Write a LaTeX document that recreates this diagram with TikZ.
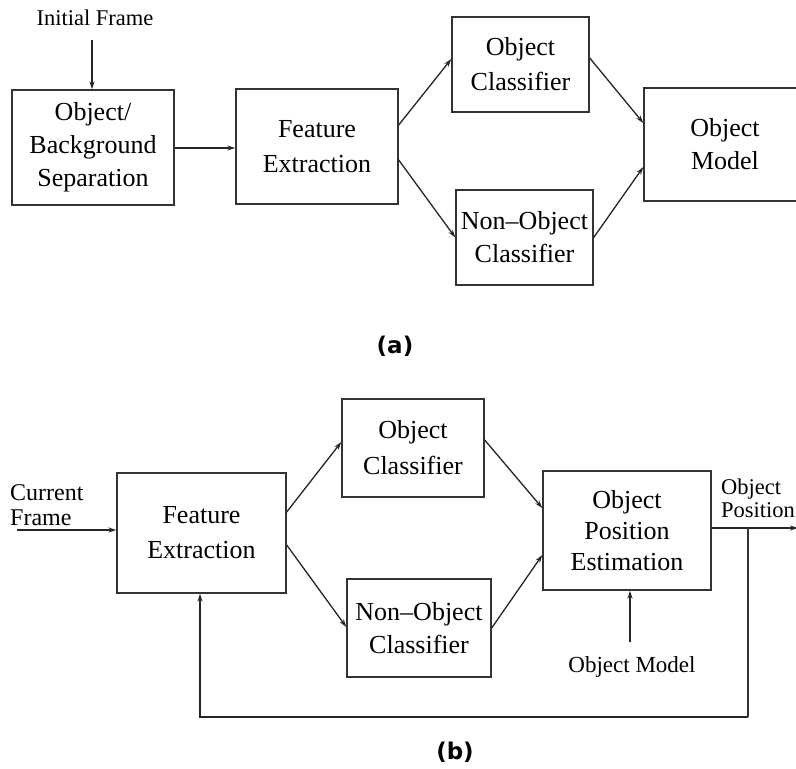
\documentclass[tikz,border=0pt]{standalone}
\usepackage{fontspec}
\setmainfont{Liberation Serif}
\newfontfamily\labelfont{DejaVu Sans}
\usetikzlibrary{arrows.meta}

\begin{document}
\begin{tikzpicture}[x=1pt,y=-1pt,
  blk/.style={draw=black!80,line width=1.4pt,align=center,inner sep=0pt,
    font=\fontsize{26}{33}\selectfont},
  note/.style={inner sep=0pt,align=left},
  arr/.style={draw=black!85,line width=1.3pt,-{Stealth[length=8pt,width=5pt]}},
  wire/.style={draw=black!80,line width=1.3pt},
  caption/.style={font=\labelfont\bfseries\fontsize{23}{26}\selectfont}]
\clip (0,0) rectangle (796,769);
\fill[white] (0,0) rectangle (796,769);

% ---------------- (a) training stage ----------------
\node[note,font=\fontsize{22.5}{24}\selectfont] (init) at (95,18) {Initial Frame};
\node[blk,minimum width=162pt,minimum height=115pt] (sep) at (93,147.5)
  {Object/\\Background\\Separation};
\node[blk,minimum width=162pt,minimum height=115pt,
  font=\fontsize{26}{35}\selectfont] (fea) at (317,146.5) {Feature\\Extraction};
\node[blk,minimum width=137pt,minimum height=95pt,
  font=\fontsize{26}{35}\selectfont] (oca) at (520.5,64.5) {Object\\Classifier};
\node[blk,minimum width=137pt,minimum height=95pt] (noca) at (524.5,237.5)
  {Non--Object\\Classifier};
\node[blk,minimum width=162pt,minimum height=113pt] (oma) at (725,144.5)
  {Object\\Model};

\draw[arr] ([xshift=-3pt,yshift=-14pt]init.south) -- ([xshift=-1pt]sep.north);
\draw[arr] ([yshift=-0.5pt]sep.east) -- ([yshift=-0.5pt]sep.east -| fea.west);
\draw[arr] ([yshift=21.5pt]fea.east) -- ([yshift=5.5pt]oca.west);
\draw[arr] ([yshift=-13.5pt]fea.east) -- (noca.west);
\draw[arr] ([yshift=6.5pt]oca.east) -- ([yshift=21.5pt]oma.west);
\draw[arr] (noca.east) -- ([yshift=-22.5pt]oma.west);

\node[caption] (capa) at (395,346) {(a)};

% ---------------- (b) tracking stage ----------------
\node[note,anchor=west,font=\fontsize{24}{25}\selectfont] (cur) at (10,505)
  {Current\\Frame};
\node[blk,minimum width=169pt,minimum height=120pt,
  font=\fontsize{26}{35}\selectfont] (feb) at (201.5,533) {Feature\\Extraction};
\node[blk,minimum width=142pt,minimum height=98pt,
  font=\fontsize{26}{36}\selectfont] (ocb) at (413,448) {Object\\Classifier};
\node[blk,minimum width=144pt,minimum height=98pt] (nocb) at (419,628)
  {Non--Object\\Classifier};
\node[blk,minimum width=168pt,minimum height=119pt,
  font=\fontsize{26}{31}\selectfont] (ope) at (627,530.5)
  {Object\\Position\\Estimation};
\node[note,anchor=west,font=\fontsize{22.5}{23}\selectfont] (opos) at (721,498)
  {Object\\Position};
\node[note,font=\fontsize{23}{24}\selectfont] (omb) at (632,667) {Object Model};

\coordinate (src) at (17,530);
\coordinate (out) at (798,528);
\coordinate (br) at (748,528);
\coordinate (fb) at (748,717);

\draw[arr] (src) -- (src -| feb.west);
\draw[arr] ([yshift=21pt]feb.east) -- ([yshift=6pt]ocb.west);
\draw[arr] ([yshift=-12pt]feb.east) -- ([yshift=1pt]nocb.west);
\draw[arr] ([yshift=8pt]ocb.east) -- ([yshift=22.5pt]ope.west);
\draw[arr] (nocb.east) -- ([yshift=-24.5pt]ope.west);
\draw[arr] ([yshift=2.5pt]ope.east) -- (out);
\draw[arr] ([xshift=-2pt,yshift=14pt]omb.north) -- ([xshift=3pt]ope.south);
\draw[wire] (br) -- (fb);
\draw[arr] (fb) -| ([xshift=-1.5pt]feb.south);

\node[caption] (capb) at (455,752) {(b)};
\end{tikzpicture}
\end{document}
